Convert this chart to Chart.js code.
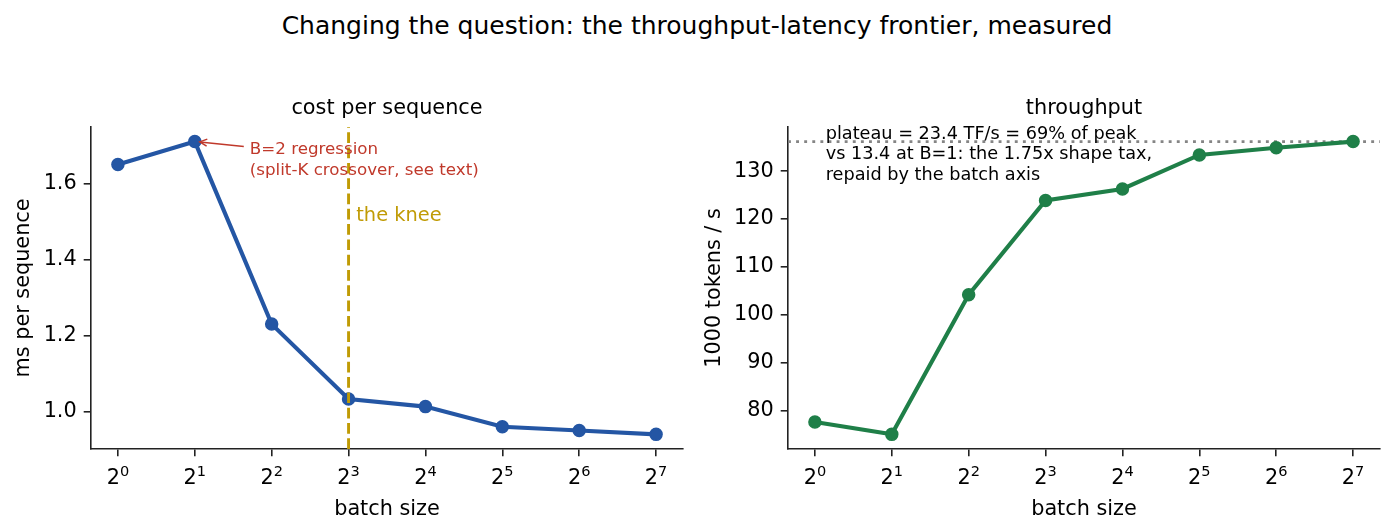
<!DOCTYPE html>
<html>
<head>
<meta charset="utf-8">
<script src="https://cdn.jsdelivr.net/npm/chart.js@4.4.1/dist/chart.umd.min.js"></script>
<style>
  body { margin: 0; background: #fff; width: 1394px; height: 532px; overflow: hidden; position: relative; font-family: 'DejaVu Sans', sans-serif; }
  #suptitle { position: absolute; left: 0; top: 11px; width: 1394px; text-align: center; font-size: 25px; line-height: 30px; color: #000; }
  canvas { position: absolute; top: 0; }
  #costChart { left: 0; }
  #tputChart { left: 697px; }
</style>
</head>
<body>
<div id="suptitle">Changing the question: the throughput-latency frontier, measured</div>
<canvas id="costChart" width="697" height="532"></canvas>
<canvas id="tputChart" width="697" height="532"></canvas>
<script>
// Batch sizes as powers of two (exponent on a linear axis)
const batchExp = [0, 1, 2, 3, 4, 5, 6, 7];
const xTickBase = '2';
const xTickPowers = ['0', '1', '2', '3', '4', '5', '6', '7'];

// Measured values
const msPerSeq = [1.65, 1.71, 1.23, 1.033, 1.013, 0.96, 0.95, 0.94];
const kTokensPerSec = [77.6, 75.0, 104.2, 123.9, 126.3, 133.4, 134.9, 136.2];

// Tick labels
const msTicks = [1.0, 1.2, 1.4, 1.6];
const tputTicks = [80, 90, 100, 110, 120, 130];

// Annotation anchors
const kneeExp = 3;
const kneeLabelY = 1.5;
const regressionExp = 1;
const plateauK = 136.2;
const regressionNote = ['B=2 regression', '(split-K crossover, see text)'];
const plateauNote = [
  'plateau = 23.4 TF/s = 69% of peak',
  'vs 13.4 at B=1: the 1.75x shape tax,',
  'repaid by the batch axis'
];

const BLUE = '#2456a4';
const GREEN = '#1f7f48';
const RED = '#c0392b';
const GOLD = '#c09b05';
const INK = '#222';
const FONT = "'DejaVu Sans'";
const LABEL_SIZE = 20.8;

Chart.defaults.font.family = FONT;
Chart.defaults.color = '#000';

// matplotlib-like 5% margins around the data
function paddedRange(values, frac) {
  const lo = Math.min(...values), hi = Math.max(...values);
  const pad = (hi - lo) * frac;
  return { min: lo - pad, max: hi + pad };
}

function buildXAxis() {
  return {
    type: 'linear',
    min: -0.35,
    max: 7.35,
    afterBuildTicks: s => { s.ticks = batchExp.map(v => ({ value: v })); },
    afterFit: s => { s.height = 83; },
    ticks: { display: false },
    grid: { display: true, drawOnChartArea: false, drawTicks: true, tickLength: 7.3, color: INK, lineWidth: 1.6 },
    border: { display: true, color: INK, width: 1.6 },
    title: { display: true, text: 'batch size', font: { size: LABEL_SIZE }, color: '#000', padding: { top: 0, bottom: 9.5 } }
  };
}

function buildYAxis(range, ticks, label, fmt, titlePad) {
  return {
    type: 'linear',
    min: range.min,
    max: range.max,
    afterBuildTicks: s => { s.ticks = ticks.map(v => ({ value: v })); },
    afterFit: s => { s.width = 91; },
    ticks: { padding: 7, font: { size: LABEL_SIZE }, color: '#000', callback: fmt },
    grid: { display: true, drawOnChartArea: false, drawTicks: true, tickLength: 7.3, color: INK, lineWidth: 1.6 },
    border: { display: true, color: INK, width: 1.6 },
    title: { display: true, text: label, font: { size: LABEL_SIZE }, color: '#000', padding: { top: titlePad, bottom: 0 } }
  };
}

function buildDataset(values, color) {
  return {
    data: batchExp.map((x, i) => ({ x: x, y: values[i] })),
    borderColor: color,
    backgroundColor: color,
    borderWidth: 4.1,
    pointRadius: 6,
    pointBorderWidth: 1.5,
    pointBackgroundColor: color,
    pointBorderColor: color,
    tension: 0
  };
}

function baseOptions(title, xAxis, yAxis) {
  return {
    responsive: false,
    animation: false,
    events: [],
    layout: { padding: { left: 0, right: 14, top: 0, bottom: 0 } },
    plugins: {
      legend: { display: false },
      tooltip: { enabled: false },
      title: {
        display: true,
        text: title,
        fullSize: false,
        color: '#000',
        font: { size: LABEL_SIZE, weight: 'normal' },
        padding: { top: 96, bottom: 6 }
      }
    },
    scales: { x: xAxis, y: yAxis }
  };
}

// "2" with a raised exponent, like matplotlib's mathtext tick labels
const powerTicks = {
  id: 'powerTicks',
  afterDraw(chart) {
    const { ctx, chartArea, scales: { x } } = chart;
    const baseFont = LABEL_SIZE + 'px ' + FONT;
    const supFont = (LABEL_SIZE * 0.7) + 'px ' + FONT;
    const baseY = chartArea.bottom + 35;
    const supY = chartArea.bottom + 27;
    ctx.save();
    ctx.fillStyle = '#000';
    ctx.textBaseline = 'alphabetic';
    ctx.textAlign = 'left';
    batchExp.forEach((v, i) => {
      ctx.font = baseFont;
      const bw = ctx.measureText(xTickBase).width;
      ctx.font = supFont;
      const sw = ctx.measureText(xTickPowers[i]).width;
      const left = x.getPixelForValue(v) - (bw + sw) / 2;
      ctx.font = baseFont;
      ctx.fillText(xTickBase, left, baseY);
      ctx.font = supFont;
      ctx.fillText(xTickPowers[i], left + bw, supY);
    });
    ctx.restore();
  }
};

// Knee marker + B=2 arrow annotation on the cost chart
const costNotes = {
  id: 'costNotes',
  afterDatasetsDraw(chart) {
    const { ctx, chartArea, scales: { x, y } } = chart;
    ctx.save();

    const kx = x.getPixelForValue(kneeExp);
    ctx.strokeStyle = GOLD;
    ctx.lineWidth = 2.9;
    ctx.setLineDash([10.7, 4.6]);
    ctx.beginPath();
    ctx.moveTo(kx, chartArea.bottom);
    ctx.lineTo(kx, chartArea.top);
    ctx.stroke();
    ctx.setLineDash([]);

    ctx.fillStyle = GOLD;
    ctx.font = '19.4px ' + FONT;
    ctx.textBaseline = 'alphabetic';
    ctx.textAlign = 'left';
    ctx.fillText('the knee', x.getPixelForValue(kneeExp + 0.1), y.getPixelForValue(kneeLabelY));

    // arrow to the B=2 point
    const px = x.getPixelForValue(regressionExp);
    const py = y.getPixelForValue(msPerSeq[regressionExp]);
    const sx = px + 49, sy = py + 4.8;
    const ex = px + 5, ey = py + 0.3;
    ctx.strokeStyle = RED;
    ctx.lineWidth = 1.5;
    ctx.beginPath();
    ctx.moveTo(sx, sy);
    ctx.lineTo(ex, ey);
    ctx.stroke();
    const ang = Math.atan2(sy - ey, sx - ex);
    const hl = 8, hw = 0.45;
    ctx.beginPath();
    ctx.moveTo(ex + hl * Math.cos(ang - hw), ey + hl * Math.sin(ang - hw));
    ctx.lineTo(ex, ey);
    ctx.lineTo(ex + hl * Math.cos(ang + hw), ey + hl * Math.sin(ang + hw));
    ctx.stroke();

    ctx.fillStyle = RED;
    ctx.font = '16.7px ' + FONT;
    ctx.textBaseline = 'middle';
    regressionNote.forEach((line, i) => {
      ctx.fillText(line, px + 55, py + 8 + i * 20.7);
    });
    ctx.restore();
  }
};

// Plateau reference line + note on the throughput chart
const tputNotes = {
  id: 'tputNotes',
  beforeDatasetsDraw(chart) {
    const { ctx, chartArea, scales: { y } } = chart;
    const ly = y.getPixelForValue(plateauK);
    ctx.save();
    ctx.strokeStyle = '#858585';
    ctx.lineWidth = 2.9;
    ctx.setLineDash([2.9, 5.2]);
    ctx.beginPath();
    ctx.moveTo(chartArea.left, ly);
    ctx.lineTo(chartArea.right, ly);
    ctx.stroke();
    ctx.restore();
  },
  afterDatasetsDraw(chart) {
    const { ctx, scales: { x, y } } = chart;
    ctx.save();
    ctx.fillStyle = '#000';
    ctx.font = '17.7px ' + FONT;
    ctx.textBaseline = 'middle';
    ctx.textAlign = 'left';
    const tx = x.getPixelForValue(0.14);
    const ty = y.getPixelForValue(137.8);
    plateauNote.forEach((line, i) => {
      ctx.fillText(line, tx, ty + i * 20.6);
    });
    ctx.restore();
  }
};

new Chart(document.getElementById('costChart'), {
  type: 'line',
  data: { datasets: [buildDataset(msPerSeq, BLUE)] },
  options: baseOptions(
    'cost per sequence',
    buildXAxis(),
    buildYAxis(paddedRange(msPerSeq, 0.05), msTicks, 'ms per sequence', v => v.toFixed(1), 11)
  ),
  plugins: [powerTicks, costNotes]
});

new Chart(document.getElementById('tputChart'), {
  type: 'line',
  data: { datasets: [buildDataset(kTokensPerSec, GREEN)] },
  options: baseOptions(
    'throughput',
    buildXAxis(),
    buildYAxis(paddedRange(kTokensPerSec, 0.05), tputTicks, '1000 tokens / s', v => String(v), 5)
  ),
  plugins: [powerTicks, tputNotes]
});
</script>
</body>
</html>
